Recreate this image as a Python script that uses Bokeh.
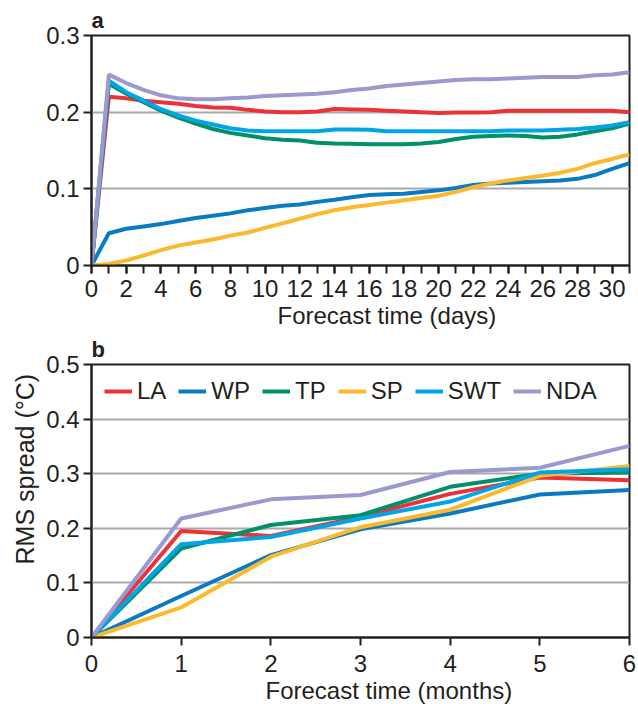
import math
from bokeh.plotting import figure
from bokeh.layouts import column
from bokeh.models import Range1d, FixedTicker, SingleIntervalTicker, Legend, LegendItem, Title
from bokeh.embed import file_html
from bokeh.resources import INLINE

# ---------------- data ----------------
series_names = ["LA", "WP", "TP", "SP", "SWT", "NDA"]
series_colors = ["#EC3237", "#0A7BC1", "#00906A", "#FDB92E", "#00A5E6", "#9A9ACF"]

days = list(range(0, 32))
la_days = [0, 0.220, 0.218, 0.215, 0.213, 0.211, 0.208, 0.206, 0.2057, 0.203, 0.201, 0.200, 0.200, 0.201,
           0.204, 0.2035, 0.203, 0.202, 0.201, 0.200, 0.199, 0.1995, 0.1996, 0.200, 0.202, 0.202,
           0.202, 0.202, 0.202, 0.202, 0.202, 0.200]
wp_days = [0, 0.042, 0.048, 0.051, 0.054, 0.058, 0.062, 0.065, 0.068, 0.072, 0.075, 0.078, 0.0796, 0.083,
           0.0857, 0.089, 0.092, 0.093, 0.0935, 0.096, 0.098, 0.101, 0.105, 0.107, 0.108, 0.109,
           0.110, 0.111, 0.113, 0.118, 0.126, 0.1335]
tp_days = [0, 0.237, 0.224, 0.213, 0.202, 0.193, 0.185, 0.178, 0.173, 0.1696, 0.166, 0.164, 0.163, 0.160,
           0.159, 0.1587, 0.158, 0.158, 0.158, 0.159, 0.161, 0.165, 0.168, 0.169, 0.1696, 0.169,
           0.167, 0.168, 0.171, 0.175, 0.179, 0.185]
sp_days = [0, 0.002, 0.0065, 0.013, 0.020, 0.026, 0.030, 0.034, 0.039, 0.043, 0.049, 0.055, 0.061, 0.067,
           0.072, 0.076, 0.079, 0.082, 0.085, 0.088, 0.091, 0.096, 0.102, 0.107, 0.111, 0.114,
           0.117, 0.121, 0.126, 0.1335, 0.139, 0.145]
swt_days = [0, 0.241, 0.226, 0.215, 0.204, 0.1957, 0.189, 0.184, 0.179, 0.176, 0.175, 0.175, 0.175, 0.175,
            0.1774, 0.1774, 0.177, 0.175, 0.175, 0.175, 0.175, 0.175, 0.175, 0.175, 0.176, 0.176,
            0.176, 0.177, 0.178, 0.180, 0.1826, 0.187]
nda_days = [0, 0.249, 0.238, 0.229, 0.222, 0.218, 0.217, 0.217, 0.218, 0.219, 0.221, 0.222, 0.223, 0.224,
            0.226, 0.229, 0.231, 0.234, 0.236, 0.238, 0.240, 0.242, 0.243, 0.243, 0.244, 0.245,
            0.246, 0.246, 0.246, 0.248, 0.249, 0.252]

months = [0, 1, 2, 3, 4, 5, 6]
la_months = [0, 0.195, 0.186, 0.221, 0.263, 0.293, 0.288]
wp_months = [0, 0.076, 0.151, 0.198, 0.227, 0.262, 0.270]
tp_months = [0, 0.163, 0.206, 0.224, 0.276, 0.300, 0.302]
sp_months = [0, 0.055, 0.148, 0.202, 0.234, 0.296, 0.314]
swt_months = [0, 0.171, 0.184, 0.218, 0.249, 0.302, 0.308]
nda_months = [0, 0.218, 0.253, 0.261, 0.303, 0.311, 0.351]

day_ticks = list(range(0, 32, 2))
month_ticks = months
a_yticks = [0, 0.1, 0.2, 0.3]
b_yticks = [0, 0.1, 0.2, 0.3, 0.4, 0.5]

FONT = "Liberation Sans"
TXT = "#231F20"
GRID = "#A7A9AC"
TICK_FS = "24px"
LAB_FS = "24px"


def style(p, yticks):
    p.title.text_font = FONT
    p.title.text_font_size = "22px"
    p.title.text_font_style = "bold"
    p.title.text_color = TXT
    p.title.align = "left"
    p.title.offset = 0
    p.title.standoff = 5
    p.outline_line_color = TXT
    p.outline_line_width = 2
    p.outline_line_alpha = 1
    p.xgrid.visible = False
    p.ygrid.grid_line_color = GRID
    p.ygrid.grid_line_width = 2
    p.yaxis.ticker = FixedTicker(ticks=yticks)
    p.yaxis.major_label_overrides = {t: ("0" if t == 0 else "%.1f" % t) for t in yticks}
    for ax in (p.xaxis[0], p.yaxis[0]):
        ax.axis_line_color = TXT
        ax.axis_line_width = 2
        ax.major_tick_line_color = TXT
        ax.major_tick_line_width = 2
        ax.minor_tick_line_color = TXT
        ax.minor_tick_line_width = 2
        ax.major_tick_out = 8
        ax.major_tick_in = 0
        ax.minor_tick_out = 8
        ax.minor_tick_in = 0
        ax.major_label_text_font = FONT
        ax.major_label_text_font_size = TICK_FS
        ax.major_label_text_color = TXT
    p.yaxis.major_label_standoff = 4


def bottom_title(p, text, offset, standoff):
    t = Title(text=text, align="left", offset=offset, standoff=standoff,
              text_font=FONT, text_font_size=LAB_FS, text_font_style="normal", text_color=TXT)
    p.add_layout(t, "below")


# ---------------- panel a ----------------
pa = figure(width=638, height=332, output_backend="svg", toolbar_location=None,
            x_range=Range1d(0, 31), y_range=Range1d(0, 0.3), title="a",
            min_border_left=91, min_border_right=9, min_border_top=35, min_border_bottom=67)
style(pa, a_yticks)
pa.xaxis.ticker = SingleIntervalTicker(interval=2, num_minor_ticks=2)
pa.xaxis.major_label_standoff = 6
bottom_title(pa, "Forecast time (days)", 186, 0)

day_data = [la_days, wp_days, tp_days, sp_days, swt_days, nda_days]
for name, col, ys in zip(series_names, series_colors, day_data):
    pa.line(days, ys, line_color=col, line_width=4)

# ---------------- panel b ----------------
pb = figure(width=638, height=372, output_backend="svg", toolbar_location=None,
            x_range=Range1d(0, 6), y_range=Range1d(0, 0.5), title="b",
            min_border_left=91, min_border_right=9, min_border_top=30, min_border_bottom=67)
style(pb, b_yticks)
pb.xaxis.ticker = FixedTicker(ticks=month_ticks)
pb.xaxis.major_label_standoff = 9
bottom_title(pb, "Forecast time (months)", 174, 0)

month_data = [la_months, wp_months, tp_months, sp_months, swt_months, nda_months]
items = []
for name, col, ys in zip(series_names, series_colors, month_data):
    r = pb.line(months, ys, line_color=col, line_width=4)
    items.append(LegendItem(label=name, renderers=[r]))

legend = Legend(items=items, orientation="horizontal", location="top_left",
                label_text_font=FONT, label_text_font_size=TICK_FS, label_text_color=TXT,
                glyph_width=28, glyph_height=10, label_standoff=5, spacing=12,
                border_line_color=None, background_fill_alpha=0, margin=13, padding=0)
pb.add_layout(legend, "center")

ylab = Title(text="RMS spread (\u00b0C)", align="left", offset=73,
             text_font=FONT, text_font_size="25px", text_font_style="normal", text_color=TXT)
pb.add_layout(ylab, "left")

layout = column(pa, pb, spacing=0)
open("out.html", "w").write(file_html(layout, INLINE))
